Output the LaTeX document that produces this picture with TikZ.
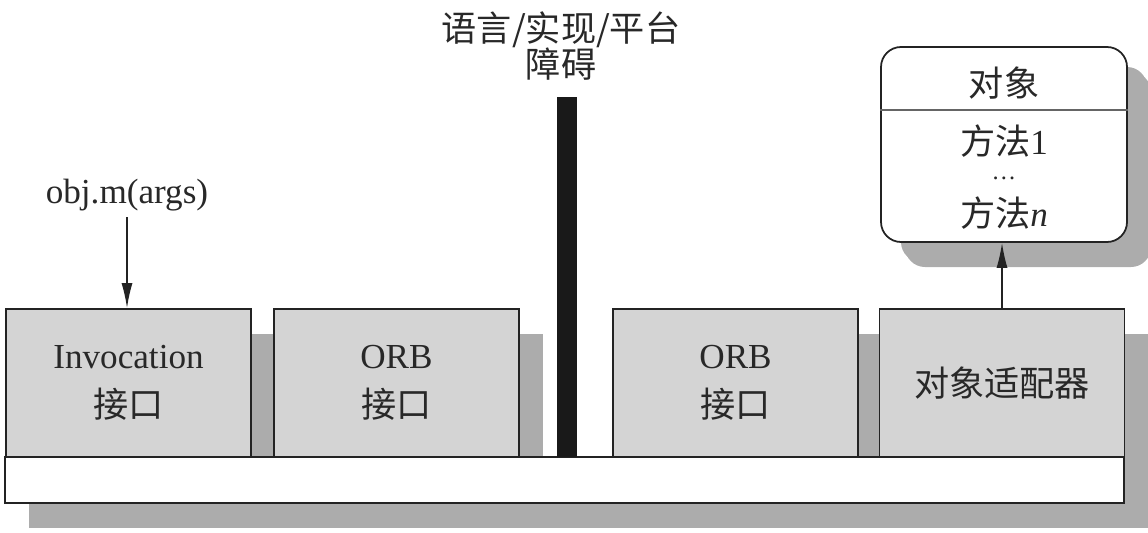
\documentclass[tikz,border=0pt]{standalone}
\usepackage{fontspec}
\usepackage{xcolor}
\usepackage{tikz}
\setmainfont{Liberation Serif}
\newfontfamily\cjk{Noto Sans CJK SC}
\usetikzlibrary{arrows.meta, positioning, shadows}
\definecolor{boxGray}{RGB}{212, 212, 212}
\definecolor{shadowGray}{RGB}{172, 172, 172}
\definecolor{wallBlack}{RGB}{25, 25, 25}
\definecolor{lineBlack}{RGB}{35, 35, 35}
\definecolor{textGray}{RGB}{40, 40, 40}

\begin{document}
\begin{tikzpicture}[
    layer/.style={
        rectangle,
        draw=lineBlack,
        line width=1pt,
        fill=#1,
        minimum width=4.9cm,
        minimum height=2.96cm,
        align=center,
        text=textGray,
        font=\fontsize{20}{28}\selectfont,
        drop shadow={shadow xshift=0.48cm, shadow yshift=-0.5cm, fill=shadowGray, opacity=1}
    },
    layer/.default=boxGray,
    label/.style={
        align=center,
        text=textGray,
        inner sep=1pt,
        font=\fontsize{20}{20.5}\selectfont
    },
    call/.style={-{Latex[length=5mm, width=2.2mm]}, thick, draw=lineBlack}
]
    \useasboundingbox (0,0) rectangle (22.96,10.64);

    % Object
    \node[layer=white, minimum width=4.92cm, minimum height=3.9cm, rounded corners=0.4cm,
          drop shadow={shadow xshift=0.4cm, shadow yshift=-0.4cm, fill=shadowGray, opacity=1}]
        (obj) at (20.08,7.75) {};
    \draw[lineBlack!70, semithick] (obj.west |- 0,8.44) -- (obj.east |- 0,8.44);
    \node[label] (objname) at (20.08,8.98) {\cjk 对象};
    \node[label] (method1) at (20.08,7.82) {{\cjk 方法}1};
    \node[label, font=\fontsize{14}{14}\selectfont, inner sep=0pt] (dots) at (20.08,7.08) {…};
    \node[label] (methodn) at (20.08,6.38) {{\cjk 方法}\textit{n}};

    % Interfaces
    \node[layer] (invoke) at (2.57,2.98) {Invocation\\{\cjk 接口}};
    \node[layer] (orbL) at (7.93,2.98) {ORB\\{\cjk 接口}};
    \node[layer] (orbR) at (14.71,2.98) {ORB\\{\cjk 接口}};
    \node[layer] (adapter) at (20.04,2.98) {\cjk 对象适配器};

    % Bus
    \node[layer=white, minimum width=22.38cm, minimum height=0.92cm] (bus) at (11.29,1.04) {};

    % Barrier
    \node[rectangle, fill=wallBlack, minimum width=0.4cm, minimum height=7.2cm, inner sep=0pt]
        (wall) at (11.34,5.1) {};
    \node[label, font=\fontsize{20}{20.5}\cjk] (gap) at (11.22,9.72) {语言/实现/平台\\障碍};

    % Calls
    \node[label, inner sep=0.333em] (request) at (2.54,6.74) {obj.m(args)};
    \draw[call] (request) -- (request |- invoke.north);
    \draw[call] (adapter.north) -- (adapter.north |- obj.south);

\end{tikzpicture}
\end{document}
